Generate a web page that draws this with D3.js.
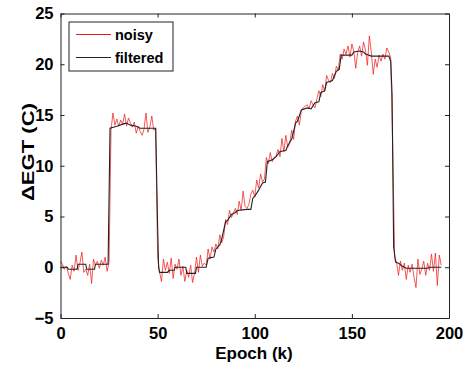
<!DOCTYPE html>
<html>

<head>
	<title>EGT filter</title>
	<meta charset="utf-8">
	<script src="https://cdn.jsdelivr.net/npm/d3@7"></script>
</head>

<style>
	body {
		margin: 0;
		background: #fff;
	}

	svg text {
		font-family: "Liberation Sans", Arial, sans-serif;
		font-weight: bold;
		fill: #000;
	}
</style>

<body>

	<svg width="467" height="366"></svg>

	<script>
		// noisy series, one sample per epoch (k) from 0 to 196
		var noisyValues = [
			0.6, 0.3, -0.2, 0.1, -0.6, -1.2, 0.2, -0.4, 1.2, -0.3,
			0.4, 1.5, -0.5, -0.2, -0.8, 0.3, -1.6, 0.8, 0.2, 0.6,
			-0.1, 0.7, 0.2, 1.0, -0.4, 0.5, 13.5, 15.2, 14.0, 14.6,
			13.9, 14.5, 14.1, 15.1, 13.9, 14.7, 14.2, 13.8, 14.3, 13.2,
			13.9, 13.4, 13.0, 13.6, 15.2, 13.3, 13.8, 14.9, 13.5, 13.7,
			1.0, -0.5, -1.4, 0.8, -0.3, 0.5, -0.6, 0.9, -1.1, 0.3,
			-0.2, 0.8, -0.8, 0.1, -1.4, -0.3, -1.0, 0.2, -1.5, -0.6,
			1.0, -0.5, 1.2, 0.1, 0.4, 0.2, 1.8, 0.8, 2.0, 1.5,
			2.3, 1.8, 3.2, 2.4, 3.0, 4.7, 4.2, 5.6, 4.9, 5.3,
			5.8, 5.2, 6.5, 5.6, 7.5, 6.0, 5.8, 6.2, 7.2, 7.6,
			6.9, 8.6, 7.8, 9.2, 8.4, 8.7, 10.8, 10.2, 11.3, 10.4,
			10.8, 11.0, 11.6, 10.9, 12.7, 11.4, 13.0, 11.8, 12.2, 13.5,
			12.6, 14.4, 14.9, 14.0, 15.5, 15.7, 15.9, 16.0, 15.6, 16.4,
			16.0, 15.7, 16.6, 17.4, 16.8, 18.0, 17.3, 18.9, 18.4, 18.2,
			19.1, 18.6, 19.8, 19.4, 21.0, 20.5, 21.5, 21.0, 21.8, 20.7,
			22.0, 21.3, 19.6, 21.2, 21.8, 20.8, 22.2, 21.4, 19.9, 22.8,
			21.2, 19.0, 20.5, 19.7, 20.9, 20.3, 21.0, 20.5, 21.6, 21.2,
			20.6, 12.0, 1.0, 0.5, -0.8, 0.6, -0.3, 0.4, -1.2, 0.2,
			-0.5, 0.3, -1.0, -2.0, 0.8, -0.7, -0.2, 0.6, -0.8, 0.4,
			-0.3, 1.3, -0.4, 1.4, -1.8, 1.2, 0.2
		];

		// filtered series, break points of the step-like curve
		var filteredEpochs = [
			0, 3.5, 4, 8.5, 9, 13, 13.5, 17.5, 18, 24.5,
			25.5, 29, 32, 34, 36, 39, 41, 49, 50, 50.5,
			51, 55, 56, 58.5, 59, 64.5, 65, 69.5, 70, 75,
			76, 79, 80, 82, 83, 85, 86, 88, 90, 91,
			96, 98, 99, 100, 102, 104, 105.5, 106.5, 109, 111,
			113, 116, 117, 119, 121, 122, 124, 127, 129, 131,
			133, 134, 136, 137, 140, 142, 143.5, 144.5, 150, 151,
			154, 156, 157, 160, 169, 170, 170.7, 171.5, 172.5, 174,
			176, 178, 189, 190, 196
		];
		var filteredValues = [
			0, 0, -0.2, -0.2, 0.3, 0.3, -0.2, -0.2, 0.3, 0.3,
			13.7, 13.9, 14.1, 14.2, 14.0, 13.9, 13.7, 13.7, 4, 0,
			-0.5, -0.5, -0.3, -0.3, 0, 0, -0.6, -0.6, 0, 0,
			0.9, 1.0, 1.8, 2.2, 2.8, 4.5, 4.6, 5.2, 5.4, 5.6,
			5.7, 5.7, 6.8, 7.0, 7.6, 8.3, 8.4, 10.4, 10.6, 10.9,
			11.4, 11.5, 12.0, 12.6, 14.2, 14.4, 15.5, 15.7, 15.6, 16.2,
			16.3, 17.2, 17.4, 18.2, 18.4, 19.3, 19.5, 20.9, 20.9, 21.2,
			21.3, 21.2, 21.0, 20.8, 20.8, 20.3, 17, 2, 0.5, 0.4,
			0.1, -0.1, -0.1, 0, 0
		];

		var xTicks = [0, 50, 100, 150, 200];
		var yTicks = [-5, 0, 5, 10, 15, 20, 25];
		var seriesNames = ["noisy", "filtered"];
		var seriesColors = ["#f01818", "#222"];

		var noisy = noisyValues.map(function(v, i) {
			return [i, v];
		});
		var filtered = filteredEpochs.map(function(e, i) {
			return [e, filteredValues[i]];
		});

		var x = d3.scaleLinear().domain([0, 200]).range([60.5, 449]);
		var y = d3.scaleLinear().domain([-5, 25]).range([318, 13.5]);

		var svg = d3.select("svg");

		var line = d3.line()
			.x(function(d) { return x(d[0]); })
			.y(function(d) { return y(d[1]); });

		svg.append("path")
			.datum(noisy)
			.attr("fill", "none")
			.attr("stroke", seriesColors[0])
			.attr("stroke-width", 0.9)
			.attr("stroke-opacity", 0.8)
			.attr("d", line);

		svg.append("path")
			.datum(filtered)
			.attr("fill", "none")
			.attr("stroke", seriesColors[1])
			.attr("stroke-width", 1.1)
			.attr("d", line);

		// axes, matlab style: box with inward ticks on all four sides
		var tl = 4;
		svg.append("g")
			.attr("transform", "translate(0,318)")
			.call(d3.axisBottom(x).tickValues(xTicks).tickSizeInner(-tl).tickSizeOuter(0).tickPadding(9));
		svg.append("g")
			.attr("transform", "translate(0,13.5)")
			.call(d3.axisTop(x).tickValues(xTicks).tickSizeInner(-tl).tickSizeOuter(0).tickFormat(""));
		svg.append("g")
			.attr("transform", "translate(60.5,0)")
			.call(d3.axisLeft(y).tickValues(yTicks).tickSizeInner(-tl).tickSizeOuter(0).tickPadding(7));
		svg.append("g")
			.attr("transform", "translate(449,0)")
			.call(d3.axisRight(y).tickValues(yTicks).tickSizeInner(-tl).tickSizeOuter(0).tickFormat(""));

		svg.selectAll(".tick text")
			.attr("font-size", 16.5)
			.attr("font-family", null);
		svg.selectAll(".domain, .tick line")
			.attr("stroke", "#222");

		// x axis label
		svg.append("text")
			.attr("x", 254)
			.attr("y", 359)
			.attr("text-anchor", "middle")
			.attr("font-size", 17)
			.text("Epoch (k)");

		// y axis label, drawn taller as in the original figure
		svg.append("text")
			.attr("transform", "translate(34,152) rotate(-90)")
			.attr("text-anchor", "middle")
			.attr("font-size", 17)
			.attr("textLength", 98)
			.attr("lengthAdjust", "spacingAndGlyphs")
			.text("\u0394EGT (C)");

		// legend
		var legend = svg.append("g");
		legend.append("rect")
			.attr("x", 69)
			.attr("y", 22)
			.attr("width", 104)
			.attr("height", 49)
			.attr("fill", "#fff")
			.attr("stroke", "#222");

		var item = legend.selectAll(".item")
			.data(seriesNames)
			.enter()
			.append("g")
			.attr("class", "item")
			.attr("transform", function(d, i) {
				return "translate(0," + (34.5 + i * 23) + ")";
			});
		item.append("line")
			.attr("x1", 76)
			.attr("x2", 111)
			.attr("stroke", function(d, i) { return seriesColors[i]; })
			.attr("stroke-width", 1.2);
		item.append("text")
			.attr("x", 115)
			.attr("y", 5.5)
			.attr("font-size", 14.5)
			.text(function(d) { return d; });
	</script>
</body>

</html>
